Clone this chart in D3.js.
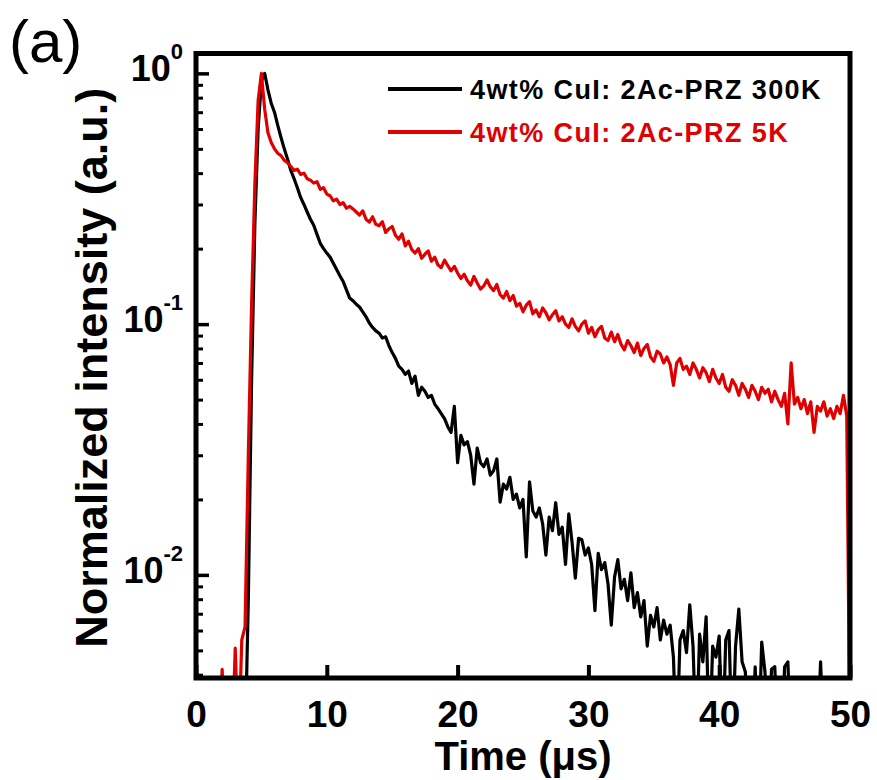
<!DOCTYPE html>
<html>
<head>
<meta charset="utf-8">
<script src="https://cdn.jsdelivr.net/npm/d3@7"></script>
<style>
  body { margin: 0; background: #fff; }
  svg { display: block; }
  text { font-family: "Liberation Sans", Arial, sans-serif; }
</style>
</head>
<body>
<svg id="chart"></svg>
<script>
// time axis is sampled every 0.25 us, starting at 0
const timeStep = 0.25;

// 4wt% CuI: 2Ac-PRZ 300K (0 = no counts, below the axis)
const black300K = [
  0, 0, 0, 0, 0, 0, 0, 0, 0, 0, 0, 0, 0, 0, 0, 0,
  0.008, 0.06, 0.25, 0.6, 0.93, 1.0, 0.86, 0.76, 0.70, 0.62, 0.555, 0.50, 0.455, 0.41, 0.38, 0.35,
  0.32, 0.30, 0.28, 0.262, 0.248, 0.228, 0.21, 0.2, 0.192, 0.185, 0.175, 0.165, 0.156, 0.148, 0.137, 0.127,
  0.124, 0.12, 0.117, 0.112, 0.107, 0.101, 0.097, 0.094, 0.092, 0.088, 0.089, 0.082, 0.077, 0.073, 0.068, 0.066,
  0.063, 0.065, 0.058, 0.062, 0.052, 0.056, 0.054, 0.051, 0.052, 0.048, 0.046, 0.044, 0.042, 0.039, 0.037, 0.047,
  0.028, 0.036, 0.033, 0.034, 0.030, 0.023, 0.032, 0.028, 0.027, 0.029, 0.025, 0.026, 0.029, 0.0195, 0.023, 0.022,
  0.0245, 0.020, 0.021, 0.0185, 0.020, 0.0118, 0.0235, 0.018, 0.017, 0.0185, 0.016, 0.012, 0.017, 0.015, 0.0194, 0.0145,
  0.0155, 0.011, 0.0175, 0.0135, 0.0097, 0.014, 0.0138, 0.012, 0.0128, 0.011, 0.0072, 0.0122, 0.0105, 0.0112, 0.0092, 0.0063,
  0.0098, 0.0115, 0.0088, 0.0096, 0.0079, 0.0102, 0.0074, 0.0085, 0.0068, 0.0079, 0.0052, 0.0069, 0.0062, 0.0074, 0.0055, 0.0066,
  0.0058, 0.0063, 0.0047, 0, 0.0055, 0.006, 0.0049, 0.0076, 0.0052, 0, 0.0058, 0.0045, 0.0068, 0, 0.0052, 0.0047,
  0.0057, 0, 0.0055, 0.006, 0, 0.0052, 0.0073, 0.0045, 0.0041, 0, 0, 0.0043, 0, 0.0054, 0.0041, 0,
  0.0042, 0.0043, 0, 0, 0.0043, 0.0045, 0, 0, 0, 0, 0, 0, 0, 0, 0, 0.0045,
  0, 0, 0, 0, 0, 0, 0, 0, 0
];

// 4wt% CuI: 2Ac-PRZ 5K
const red5K = [
  0, 0, 0, 0, 0, 0, 0, 0, 0.0042, 0, 0, 0, 0.0051, 0, 0.0055, 0.0062,
  0.03, 0.12, 0.36, 0.78, 1.0, 0.72, 0.58, 0.53, 0.50, 0.48, 0.47, 0.45, 0.44, 0.425, 0.41, 0.415,
  0.395, 0.40, 0.38, 0.375, 0.365, 0.37, 0.345, 0.35, 0.33, 0.325, 0.31, 0.315, 0.30, 0.305, 0.29, 0.295,
  0.288, 0.28, 0.272, 0.283, 0.262, 0.255, 0.268, 0.25, 0.247, 0.256, 0.232, 0.24, 0.245, 0.226, 0.218, 0.229,
  0.205, 0.214, 0.198, 0.192, 0.2, 0.183, 0.19, 0.196, 0.178, 0.185, 0.172, 0.168, 0.18, 0.171, 0.163, 0.17,
  0.16, 0.152, 0.158, 0.149, 0.143, 0.155, 0.146, 0.138, 0.142, 0.15, 0.141, 0.136, 0.144, 0.131, 0.127, 0.135,
  0.124, 0.13, 0.118, 0.121, 0.112, 0.119, 0.123, 0.11, 0.114, 0.107, 0.116, 0.111, 0.104, 0.109, 0.113, 0.103,
  0.107, 0.1, 0.097, 0.105, 0.098, 0.094, 0.1, 0.103, 0.092, 0.097, 0.089, 0.095, 0.098, 0.088, 0.086, 0.093,
  0.085, 0.091, 0.083, 0.079, 0.086, 0.082, 0.077, 0.084, 0.075, 0.08, 0.083, 0.074, 0.071, 0.078, 0.076, 0.07,
  0.074, 0.069, 0.057, 0.07, 0.073, 0.066, 0.068, 0.063, 0.07, 0.066, 0.061, 0.067, 0.064, 0.059, 0.066, 0.061,
  0.058, 0.063, 0.056, 0.054, 0.06, 0.057, 0.052, 0.058, 0.055, 0.051, 0.057, 0.054, 0.05, 0.056, 0.053, 0.055,
  0.049, 0.054, 0.05, 0.047, 0.053, 0.04, 0.07, 0.048, 0.051, 0.046, 0.05, 0.044, 0.049, 0.037, 0.047, 0.045,
  0.049, 0.043, 0.046, 0.042, 0.047, 0.044, 0.052, 0.043, 0
];

const seriesNames = ["4wt% CuI: 2Ac-PRZ 300K", "4wt% CuI: 2Ac-PRZ 5K"];
const seriesColors = ["#000000", "#e00000"];
const xTicks = [0, 10, 20, 30, 40, 50];
const yMajor = [1, 0.1, 0.01];
const yMinor = [0.004, 0.005, 0.006, 0.007, 0.008, 0.009,
  0.02, 0.03, 0.04, 0.05, 0.06, 0.07, 0.08, 0.09,
  0.2, 0.3, 0.4, 0.5, 0.6, 0.7, 0.8, 0.9];

const width = 877;
const height = 780;
const plotL = 196, plotR = 850, plotT = 53.5, plotB = 678;

const svg = d3.select("#chart").attr("width", width).attr("height", height);

const x = d3.scaleLinear().domain([0, 50]).range([plotL, plotR]);
const y = d3.scaleLog().domain([0.00388, 1.2]).range([plotB, plotT]);

svg.append("defs").append("clipPath").attr("id", "plotClip")
  .append("rect")
  .attr("x", plotL).attr("y", plotT)
  .attr("width", plotR - plotL).attr("height", plotB - plotT);

const line = d3.line()
  .x((d, i) => x(i * timeStep))
  .y(d => y(Math.max(d, 0.002)));

const plot = svg.append("g").attr("clip-path", "url(#plotClip)");
[black300K, red5K].forEach((s, k) => {
  plot.append("path")
    .datum(s)
    .attr("fill", "none")
    .attr("stroke", seriesColors[k])
    .attr("stroke-width", 3.2)
    .attr("stroke-linejoin", "round")
    .attr("d", line);
});

// frame
svg.append("rect")
  .attr("x", plotL).attr("y", plotT)
  .attr("width", plotR - plotL).attr("height", plotB - plotT)
  .attr("fill", "none").attr("stroke", "#000").attr("stroke-width", 5);

// x axis, ticks inward
const gx = svg.append("g")
  .attr("transform", `translate(0,${plotB})`)
  .call(d3.axisBottom(x).tickValues(xTicks).tickSize(-13).tickPadding(23));
gx.select(".domain").remove();
gx.selectAll(".tick line").attr("stroke-width", 4);
gx.selectAll(".tick text")
  .attr("font-size", 37).attr("font-weight", "bold")
  .attr("font-family", "Liberation Sans, Arial, sans-serif").attr("fill", "#000");

// y axis, log, ticks inward
const gy = svg.append("g")
  .attr("transform", `translate(${plotL},0)`)
  .call(d3.axisLeft(y).tickValues(yMajor).tickSize(-13).tickFormat(""));
gy.select(".domain").remove();
gy.selectAll(".tick line").attr("stroke-width", 3.5);

const gyMinor = svg.append("g")
  .attr("transform", `translate(${plotL},0)`)
  .call(d3.axisLeft(y).tickValues(yMinor).tickSize(-7).tickFormat(""));
gyMinor.select(".domain").remove();
gyMinor.selectAll(".tick line").attr("stroke-width", 3);

yMajor.forEach(v => {
  const t = svg.append("text")
    .attr("x", plotL - 13)
    .attr("y", y(v) + 8)
    .attr("text-anchor", "end")
    .attr("font-weight", "bold")
    .attr("fill", "#000");
  t.append("tspan").attr("font-size", 36).text("10");
  t.append("tspan").attr("font-size", 22).attr("dy", -22)
    .text(String(Math.round(Math.log10(v))));
});

// axis titles
svg.append("text")
  .attr("x", (plotL + plotR) / 2).attr("y", 770)
  .attr("text-anchor", "middle")
  .attr("font-size", 40).attr("font-weight", "bold")
  .text("Time (\u03bcs)");

svg.append("text")
  .attr("transform", `translate(107,${(plotT + plotB) / 2 + 2}) rotate(-90)`)
  .attr("text-anchor", "middle")
  .attr("font-size", 45).attr("font-weight", "bold")
  .text("Normalized intensity (a.u.)");

svg.append("text")
  .attr("x", 9).attr("y", 62)
  .attr("font-size", 60)
  .text("(a)");

// legend
seriesNames.forEach((name, k) => {
  const ly = 89 + k * 43;
  svg.append("line")
    .attr("x1", 388).attr("x2", 462)
    .attr("y1", ly).attr("y2", ly)
    .attr("stroke", seriesColors[k]).attr("stroke-width", 4);
  svg.append("text")
    .attr("x", 470).attr("y", ly + 9.5)
    .attr("font-size", 27).attr("font-weight", "bold")
    .attr("letter-spacing", 1.4)
    .attr("fill", seriesColors[k])
    .text(name);
});
</script>
</body>
</html>
